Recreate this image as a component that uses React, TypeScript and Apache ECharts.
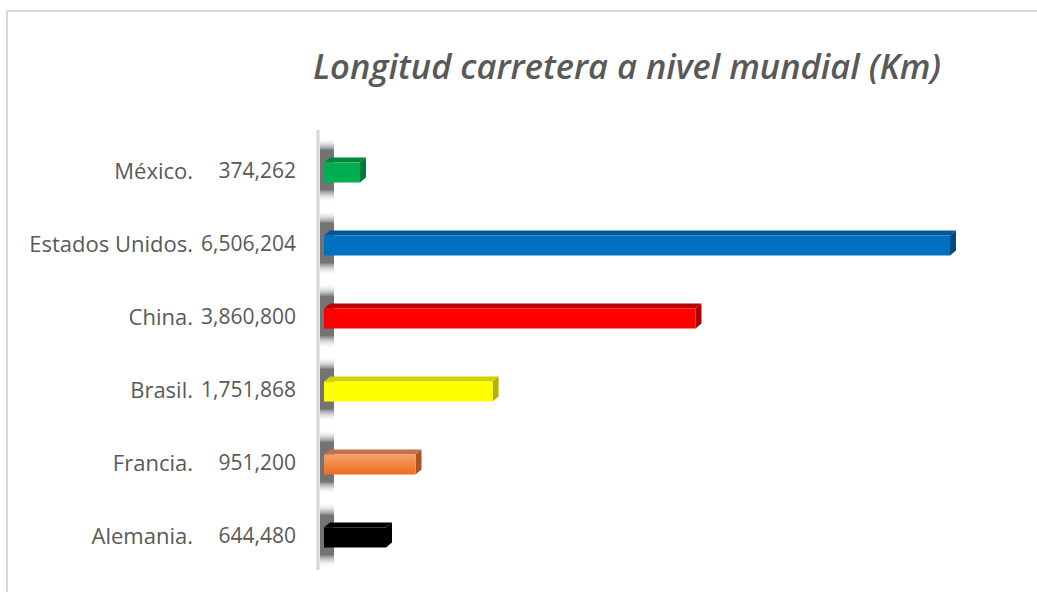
import React, { useEffect, useRef } from "react";
import * as echarts from "echarts";

const categories = ["México.", "Estados Unidos.", "China.", "Brasil.", "Francia.", "Alemania."];
const values = [374262, 6506204, 3860800, 1751868, 951200, 644480];
const valueLabels = ["374,262", "6,506,204", "3,860,800", "1,751,868", "951,200", "644,480"];
const frontColors: any[] = [
  "#00b050",
  "#0070c0",
  "#ff0000",
  "#ffff00",
  { type: "linear", x: 0, y: 0, x2: 0, y2: 1, colorStops: [{ offset: 0, color: "#f5a06a" }, { offset: 1, color: "#ec6e1c" }] },
  "#000000",
];
const topColors = ["#00893e", "#005694", "#c00000", "#d2d200", "#c0704a", "#000000"];
const sideColors = ["#007a36", "#004a80", "#a80000", "#b4b400", "#a8561e", "#000000"];

const TITLE = "Longitud carretera a nivel mundial (Km)";
const FONT = "'Open Sans', Lato, sans-serif";

export default function App() {
  const ref = useRef<HTMLDivElement>(null);
  useEffect(() => {
    const chart = echarts.init(ref.current!, null, { renderer: "svg" });
    const option: any = {
      animation: false,
      backgroundColor: "#ffffff",
      title: {
        text: TITLE,
        left: 622,
        top: 43,
        textAlign: "center",
        textStyle: { fontFamily: FONT, fontStyle: "italic", fontWeight: 600, fontSize: 34.5, color: "#595959" },
      },
      graphic: [
        {
          type: "rect",
          shape: { x: 7, y: 11, width: 1100, height: 700 },
          style: { fill: "none", stroke: "#d9d9d9", lineWidth: 2 },
          silent: true,
        },
        {
          type: "rect",
          shape: { x: 316.5, y: 130, width: 3, height: 440 },
          style: { fill: "#d6d6d6" },
          silent: true,
          z: 1,
        },
      ],
      grid: { left: 324, right: 39.5, top: 133.5, bottom: 20.5, containLabel: false },
      xAxis: { type: "value", min: 0, max: 7000000, show: false },
      yAxis: {
        type: "category",
        data: categories,
        inverse: true,
        axisTick: { show: false },
        axisLine: { show: false },
        axisLabel: {
          margin: 28,
          formatter: (v: string, i: number) => `{n|${v}}{v|${valueLabels[i]}}`,
          rich: {
            n: { fontFamily: FONT, fontSize: 22, color: "#595959", align: "right" },
            v: { fontFamily: FONT, fontSize: 21, color: "#595959", width: 103, align: "right" },
          },
        },
      },
      series: [
        {
          type: "custom",
          encode: { x: 0, y: 1 },
          data: values.map((v, i) => [v, i]),
          renderItem: (params: any, api: any) => {
            const idx = api.value(1);
            const v = api.value(0);
            const p0 = api.coord([0, idx]);
            const p1 = api.coord([v, idx]);
            const band = api.size([0, 1])[1];
            const h = band * 0.275;
            const dx = 6;
            const dy = 5;
            const cy = p0[1];
            const ft = cy - (h + dy) / 2 + dy;
            const fb = ft + h;
            const x0 = p0[0];
            const x1 = p1[0];
            return {
              type: "group",
              children: [
                {
                  type: "rect",
                  shape: { x: x0 - 4, y: cy - band / 2 + 4, width: 14, height: band - 8 },
                  style: {
                    fill: {
                      type: "linear",
                      x: 0,
                      y: 0,
                      x2: 0,
                      y2: 1,
                      colorStops: [
                        { offset: 0, color: "rgba(255,255,255,0)" },
                        { offset: 0.2, color: "rgba(80,80,80,0.8)" },
                        { offset: 0.8, color: "rgba(80,80,80,0.8)" },
                        { offset: 1, color: "rgba(255,255,255,0)" },
                      ],
                    },
                  },
                },
                {
                  type: "polygon",
                  shape: { points: [[x0, ft], [x1, ft], [x1 + dx, ft - dy], [x0 + dx, ft - dy]] },
                  style: { fill: topColors[idx] },
                },
                {
                  type: "polygon",
                  shape: { points: [[x1, ft], [x1 + dx, ft - dy], [x1 + dx, fb - dy], [x1, fb]] },
                  style: { fill: sideColors[idx] },
                },
                {
                  type: "rect",
                  shape: { x: x0, y: ft, width: x1 - x0, height: h },
                  style: { fill: frontColors[idx] },
                },
              ],
            };
          },
        },
      ],
    };
    chart.setOption(option);
    return () => chart.dispose();
  }, []);
  return <div ref={ref} style={{ position: "fixed", left: 0, top: 0, width: 1037, height: 592 }} />;
}
